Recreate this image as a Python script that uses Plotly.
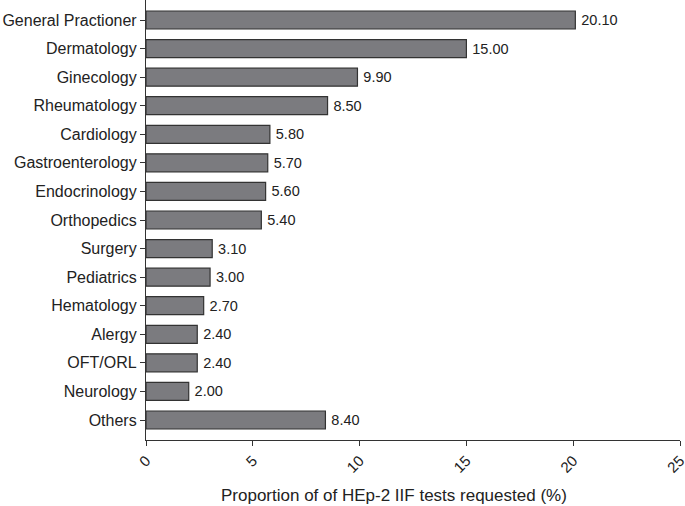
import plotly.graph_objects as go

categories = ["General Practioner", "Dermatology", "Ginecology", "Rheumatology",
              "Cardiology", "Gastroenterology", "Endocrinology", "Orthopedics",
              "Surgery", "Pediatrics", "Hematology", "Alergy", "OFT/ORL",
              "Neurology", "Others"]
values = [20.10, 15.00, 9.90, 8.50, 5.80, 5.70, 5.60, 5.40, 3.10, 3.00,
          2.70, 2.40, 2.40, 2.00, 8.40]
x_ticks = [0, 5, 10, 15, 20, 25]
x_title = "Proportion of of HEp-2 IIF tests requested (%)"

font_family = "Liberation Sans, Arial, sans-serif"

fig = go.Figure(go.Bar(
    y=categories,
    x=values,
    orientation="h",
    marker=dict(color="#7b7b7f", line=dict(color="#333333", width=1.2)),
    width=0.63,
    text=[f"\u2009{v:.2f}" for v in values],
    textposition="outside",
    textfont=dict(family=font_family, size=14.5, color="#222222"),
    cliponaxis=False,
    hoverinfo="skip",
))

fig.update_layout(
    width=685, height=506,
    margin=dict(l=146, r=5, t=0, b=66),
    plot_bgcolor="white", paper_bgcolor="white",
    showlegend=False,
    font=dict(family=font_family, size=16, color="#222222"),
    xaxis=dict(
        range=[0, 25], tickvals=x_ticks, ticktext=[str(t) for t in x_ticks],
        tickangle=-45, ticks="outside", ticklen=5, tickcolor="#333333",
        showline=True, linecolor="#333333", linewidth=1.2,
        showgrid=False, zeroline=False, automargin=False,
        ticklabeloverflow="allow",
        tickfont=dict(family=font_family, size=15, color="#222222"),
    ),
    yaxis=dict(
        autorange=False, range=[14.7, -0.7],
        ticks="outside", ticklen=5, tickcolor="#333333",
        showline=True, linecolor="#333333", linewidth=1.2,
        showgrid=False, zeroline=False, automargin=False,
        tickfont=dict(family=font_family, size=16, color="#222222"),
    ),
    annotations=[dict(
        text=x_title, xref="paper", yref="paper",
        x=0.465, y=0, yshift=-55, yanchor="middle", xanchor="center",
        showarrow=False,
        font=dict(family=font_family, size=17, color="#222222"),
    )],
)

fig.write_html(
    "out.html",
    config={"displayModeBar": False},
    post_script="document.body.style.margin='0';document.body.style.overflow='hidden';",
)
